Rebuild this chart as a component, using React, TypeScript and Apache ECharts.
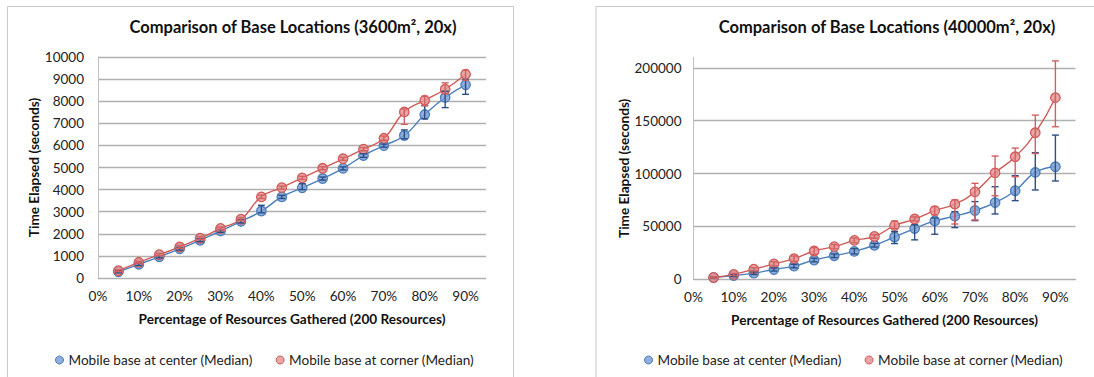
import React, { useEffect, useRef } from "react";
import * as echarts from "echarts";

const percentages = [0.05, 0.1, 0.15, 0.2, 0.25, 0.3, 0.35, 0.4, 0.45, 0.5, 0.55, 0.6, 0.65, 0.7, 0.75, 0.8, 0.85, 0.9];

const seriesNames = ["Mobile base at center (Median)", "Mobile base at corner (Median)"];
const chartTitles = ["Comparison of Base Locations (3600m\u00B2, 20x)", "Comparison of Base Locations (40000m\u00B2, 20x)"];
const xAxisTitle = "Percentage of Resources Gathered (200 Resources)";
const yAxisTitle = "Time Elapsed (seconds)";

// 3600 m² chart
const smallCenter = [280, 620, 960, 1320, 1710, 2130, 2560, 3030, 3670, 4080, 4500, 4960, 5540, 5990, 6450, 7395, 8170, 8740];
const smallCenterLow = [230, 570, 910, 1260, 1650, 2070, 2490, 2950, 3600, 4000, 4430, 4890, 5460, 5920, 6300, 7200, 7710, 8310];
const smallCenterHigh = [330, 670, 1010, 1380, 1770, 2190, 2630, 3290, 3740, 4270, 4570, 5030, 5620, 6060, 6700, 7800, 8450, 8980];
const smallCorner = [330, 710, 1055, 1405, 1800, 2240, 2660, 3670, 4090, 4530, 4965, 5395, 5830, 6320, 7515, 8040, 8540, 9217];
const smallCornerLow = [290, 670, 1010, 1350, 1740, 2180, 2600, 3600, 4020, 4460, 4900, 5330, 5760, 6230, 6950, 7800, 8340, 8950];
const smallCornerHigh = [370, 750, 1100, 1460, 1860, 2300, 2720, 3750, 4160, 4600, 5030, 5460, 5900, 6420, 7650, 8220, 8830, 9400];

// 40000 m² chart
const largeCenter = [1600, 3500, 5800, 9300, 12500, 18200, 22300, 26400, 32200, 40000, 48000, 55200, 59700, 65100, 72500, 83800, 101100, 106500];
const largeCenterLow = [800, 2500, 4500, 7800, 10800, 16500, 20500, 24000, 30500, 33800, 37300, 42600, 48900, 55500, 61800, 74400, 84500, 93000];
const largeCenterHigh = [2400, 4500, 7000, 10800, 14200, 20000, 24000, 29000, 34000, 45200, 51500, 58000, 64000, 73500, 87600, 98000, 119800, 136400];
const largeCorner = [1700, 4600, 9500, 14600, 19500, 26800, 30900, 36800, 40500, 50800, 57000, 65000, 71100, 82700, 100700, 115900, 138600, 171800];
const largeCornerLow = [1000, 3600, 8000, 12500, 17000, 23500, 28800, 34500, 38800, 48000, 55200, 60900, 52300, 56200, 79000, 97000, 119000, 144300];
const largeCornerHigh = [2400, 5600, 11000, 16700, 22000, 30000, 33000, 39000, 42300, 55200, 59000, 68800, 75100, 90800, 116600, 124100, 155300, 206600];

const FONT = "Lato";
const blueLine = "#4a7ebb";
const blueFill = "rgba(126,161,214,0.85)";
const blueErr = "#2c4f85";
const redLine = "#cf5a57";
const redFill = "rgba(228,150,150,0.85)";
const redErr = "#d36060";

function lineSeries(name: string, vals: number[], idx: number, line: string, fill: string) {
  return {
    name,
    type: "line",
    xAxisIndex: idx,
    yAxisIndex: idx,
    data: percentages.map((p, i) => [p, vals[i]]),
    smooth: 0.5,
    symbol: "circle",
    symbolSize: 9.5,
    lineStyle: { color: line, width: 1.4 },
    itemStyle: { color: fill, borderColor: line, borderWidth: 1.3 },
    z: 3,
  };
}

function errSeries(name: string, lo: number[], hi: number[], idx: number, color: string) {
  return {
    name,
    type: "custom",
    xAxisIndex: idx,
    yAxisIndex: idx,
    data: percentages.map((p, i) => [p, lo[i], hi[i]]),
    encode: { x: 0, y: [1, 2] },
    z: 4,
    renderItem: (params: any, api: any) => {
      const x = api.value(0);
      const a = api.coord([x, api.value(1)]);
      const b = api.coord([x, api.value(2)]);
      const c = 3.5;
      const style = { stroke: color, lineWidth: 1.4 };
      return {
        type: "group",
        children: [
          { type: "line", shape: { x1: a[0], y1: a[1], x2: b[0], y2: b[1] }, style },
          { type: "line", shape: { x1: a[0] - c, y1: a[1], x2: a[0] + c, y2: a[1] }, style },
          { type: "line", shape: { x1: b[0] - c, y1: b[1], x2: b[0] + c, y2: b[1] }, style },
        ],
      };
    },
  };
}

function xAxis(idx: number) {
  return {
    type: "value",
    gridIndex: idx,
    min: 0,
    max: 0.95,
    interval: 0.1,
    name: xAxisTitle,
    nameLocation: "middle",
    nameGap: 34,
    nameTextStyle: { fontFamily: FONT, fontWeight: "bold", fontSize: 13.6, color: "#111" },
    axisLine: { show: true, lineStyle: { color: "#b0b0b0", width: 1 } },
    axisTick: { show: false },
    splitLine: { show: false },
    axisLabel: {
      fontFamily: FONT,
      fontSize: 13.6,
      color: "#222",
      margin: 11,
      showMaxLabel: false,
      formatter: (v: number) => {
        const r = Math.round(v * 10);
        if (Math.abs(v * 10 - r) > 1e-6) return "";
        return r * 10 + "%";
      },
    },
  };
}

function yAxis(idx: number, max: number, interval: number, gap: number, margin: number) {
  return {
    type: "value",
    gridIndex: idx,
    min: 0,
    max,
    interval,
    name: yAxisTitle,
    nameLocation: "middle",
    nameGap: gap,
    nameTextStyle: { fontFamily: FONT, fontWeight: "bold", fontSize: 13.6, color: "#111" },
    axisLine: { show: true, lineStyle: { color: "#c0c0c0", width: 1 } },
    axisTick: { show: false },
    splitLine: { show: true, showMaxLine: max % interval === 0, lineStyle: { color: "#b0b0b0", width: 1.3 } },
    axisLabel: {
      fontFamily: FONT,
      fontSize: 13.5,
      color: "#222",
      margin,
      showMaxLabel: max % interval === 0,
      formatter: (v: number) => (v % interval === 0 ? String(v) : ""),
    },
  };
}

function legend(left: number) {
  return {
    left,
    top: 353,
    padding: 0,
    orient: "horizontal",
    icon: "circle",
    itemWidth: 8,
    itemHeight: 8,
    itemGap: 23,
    textStyle: { fontFamily: FONT, fontSize: 13.6, color: "#222" },
    data: [
      { name: seriesNames[0], itemStyle: { color: blueFill, borderColor: blueLine, borderWidth: 1 } },
      { name: seriesNames[1], itemStyle: { color: redFill, borderColor: redLine, borderWidth: 1 } },
    ],
  };
}

export default function App() {
  const ref = useRef<HTMLDivElement>(null);
  useEffect(() => {
    if (!ref.current) return;
    const chart = echarts.init(ref.current, null, { renderer: "svg" });
    chart.setOption({
      animation: false,
      backgroundColor: "#ffffff",
      title: [
        {
          text: chartTitles[0],
          left: 288,
          top: 13,
          textAlign: "center",
          textStyle: { fontFamily: FONT, fontWeight: "bold", fontSize: 16.5, color: "#111" },
        },
        {
          text: chartTitles[1],
          left: 882,
          top: 13,
          textAlign: "center",
          textStyle: { fontFamily: FONT, fontWeight: "bold", fontSize: 16.5, color: "#111" },
        },
      ],
      graphic: [
        { type: "rect", shape: { x: 7.5, y: 6.5, width: 506, height: 380 }, style: { fill: "none", stroke: "#c8c8c8", lineWidth: 1 }, z: -1 },
        { type: "rect", shape: { x: 596, y: 6.5, width: 520, height: 380 }, style: { fill: "none", stroke: "#c8c8c8", lineWidth: 1 }, z: -1 },
      ],
      legend: [legend(55), legend(644)],
      grid: [
        { left: 98, top: 57, width: 388, height: 221 },
        { left: 693.5, top: 57.3, width: 382, height: 222 },
      ],
      xAxis: [xAxis(0), xAxis(1)],
      yAxis: [yAxis(0, 10000, 1000, 56, 14), yAxis(1, 210000, 50000, 63, 12)],
      series: [
        lineSeries(seriesNames[0], smallCenter, 0, blueLine, blueFill),
        lineSeries(seriesNames[1], smallCorner, 0, redLine, redFill),
        lineSeries(seriesNames[0], largeCenter, 1, blueLine, blueFill),
        lineSeries(seriesNames[1], largeCorner, 1, redLine, redFill),
        errSeries("err-small-center", smallCenterLow, smallCenterHigh, 0, blueErr),
        errSeries("err-small-corner", smallCornerLow, smallCornerHigh, 0, redErr),
        errSeries("err-large-center", largeCenterLow, largeCenterHigh, 1, blueErr),
        errSeries("err-large-corner", largeCornerLow, largeCornerHigh, 1, redErr),
      ],
    });
    return () => chart.dispose();
  }, []);
  return <div ref={ref} style={{ position: "fixed", left: 0, top: 0, width: 1094, height: 377 }} />;
}
